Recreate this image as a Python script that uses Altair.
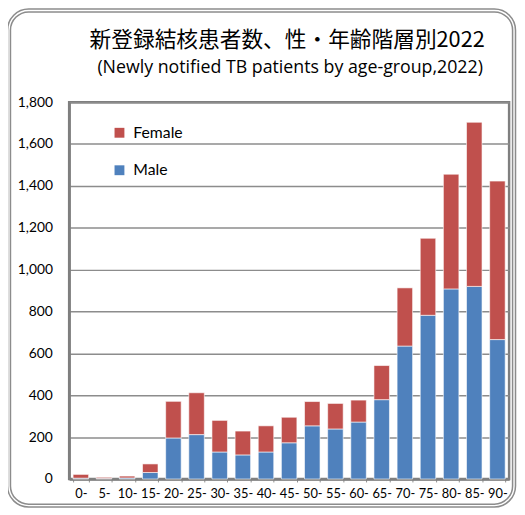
import altair as alt
import pandas as pd

ages = ["0-", "5-", "10-", "15-", "20-", "25-", "30-", "35-", "40-", "45-",
        "50-", "55-", "60-", "65-", "70-", "75-", "80-", "85-", "90-"]
male = [4, 3, 5, 31, 196, 212, 129, 115, 129, 173, 254, 239, 272, 379, 635, 782, 908, 920, 666]
total = [22, 8, 14, 72, 371, 412, 280, 229, 254, 295, 370, 361, 377, 542, 913, 1150, 1456, 1704, 1423]
female = [t - m for t, m in zip(total, male)]
title_text = "新登録結核患者数、性・年齢階層別2022"
subtitle_text = "(Newly notified TB patients by age-group,2022)"

rows = []
for a, m, f in zip(ages, male, female):
    rows.append({"age": a, "sex": "Male", "n": m, "ord": 0})
    rows.append({"age": a, "sex": "Female", "n": f, "ord": 1})
df = pd.DataFrame(rows)

bars = alt.Chart(df).mark_bar(stroke="white", strokeWidth=1, strokeOpacity=0.6).encode(
    x=alt.X("age:N", sort=ages, title=None,
            scale=alt.Scale(paddingInner=0.33, paddingOuter=0.17),
            axis=alt.Axis(labelAngle=0, labelFontSize=13, labelFont="Lato", labelColor="black",
                          domainColor="#7f7f7f", domainWidth=2.5, ticks=True, tickBand="extent",
                          tickSize=3, tickColor="#8c8c8c", labelPadding=6, grid=False)),
    y=alt.Y("n:Q", stack="zero", title=None,
            scale=alt.Scale(domain=[0, 1800], nice=False),
            axis=alt.Axis(values=list(range(0, 1801, 200)), format=",.0f", labelFontSize=14,
                          labelFont="Lato", labelColor="black", ticks=False, labelPadding=17,
                          grid=True, gridColor="#8c8c8c", gridWidth=1.5,
                          domainColor="#7f7f7f", domainWidth=2.5)),
    color=alt.Color("sex:N", scale=alt.Scale(domain=["Female", "Male"], range=["#C0504D", "#4F81BD"]),
                    legend=alt.Legend(orient="none", legendX=43, legendY=23, title=None,
                                      symbolType="square", symbolSize=100, symbolStrokeWidth=0,
                                      labelFontSize=16, labelFont="Lato", labelColor="black",
                                      rowPadding=22, labelOffset=6)),
    order=alt.Order("ord:Q"),
)

frame_df = pd.DataFrame({"a": [0]})
outer = alt.Chart(frame_df).mark_rect(fill=None, stroke="#8c8c8c", strokeWidth=4.5, cornerRadius=20).encode(
    x=alt.value(-61), x2=alt.value(451), y=alt.value(-93), y2=alt.value(409))
inner = alt.Chart(frame_df).mark_rect(fill=None, stroke="white", strokeWidth=1.4, cornerRadius=20).encode(
    x=alt.value(-61), x2=alt.value(451), y=alt.value(-93), y2=alt.value(409))

title_df = pd.DataFrame({"t": [title_text]})
sub_df = pd.DataFrame({"t": [subtitle_text]})
title = alt.Chart(title_df).mark_text(font="Noto Sans CJK JP", fontSize=22, color="black",
                                      align="center", baseline="middle").encode(
    text="t:N", x=alt.value(221), y=alt.value(-63))
subtitle = alt.Chart(sub_df).mark_text(font="Open Sans", fontSize=18, color="black",
                                       align="center", baseline="middle").encode(
    text="t:N", x=alt.value(224), y=alt.value(-35))

chart = alt.layer(outer, inner, title, subtitle, bars).properties(
    width=446, height=382,
    padding={"left": 62, "top": 92, "right": 8, "bottom": 32},
    autosize=alt.AutoSizeParams(type="none"),
).configure_view(stroke="#7f7f7f", strokeWidth=2.5)

chart.save("out.html", embed_options={"renderer": "svg", "actions": False})
